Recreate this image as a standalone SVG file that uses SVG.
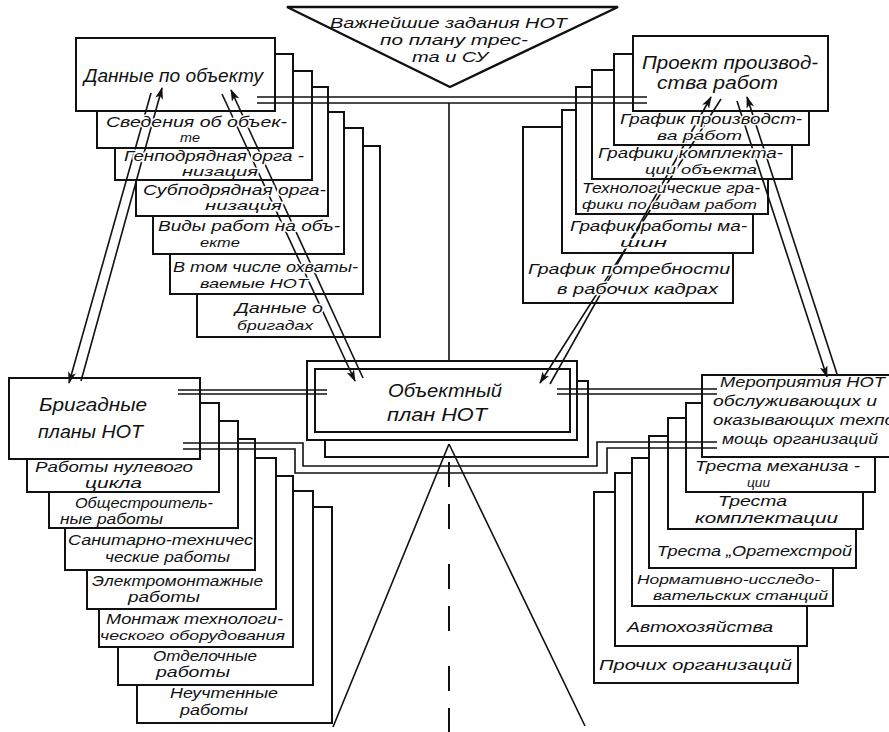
<svg xmlns="http://www.w3.org/2000/svg" xmlns:xlink="http://www.w3.org/1999/xlink" width="889" height="732" viewBox="0 0 889 732">
<style>
.b{fill:#fff;stroke:#111;stroke-width:2}
.t{font-family:"Liberation Sans","DejaVu Sans",sans-serif;font-style:italic;font-size:15px;fill:#111}
.s{font-size:13px}
.L{font-size:18px}
.c{fill:none;stroke:#111;stroke-width:1.6}
.a{fill:none;stroke:#111;stroke-width:1.6;marker-end:url(#ah)}
</style>
<defs>
<marker id="ah" viewBox="0 0 12 8" refX="11" refY="4" markerWidth="12" markerHeight="8" markerUnits="userSpaceOnUse" orient="auto"><path d="M0,0 L12,4 L0,8 L3,4 Z" fill="#111"/></marker>
<mask id="tm" maskUnits="userSpaceOnUse" x="0" y="0" width="889" height="732">
<rect x="0" y="0" width="889" height="732" fill="#fff"/>
<g fill="#000" stroke="#000" stroke-width="3">
<use href="#tt0"/><use href="#tl1"/><use href="#tl2"/><use href="#tl3"/><use href="#tl4"/><use href="#tl5"/><use href="#tl6"/><use href="#tl7"/>
<use href="#tr1"/><use href="#tr2"/><use href="#tr3"/><use href="#tr4"/><use href="#tr5"/><use href="#tr6"/><use href="#tc"/>
<use href="#tb0"/><use href="#tb1"/><use href="#tb2"/><use href="#tb3"/><use href="#tb4"/><use href="#tb5"/><use href="#tb6"/><use href="#tb7"/>
<use href="#tm0"/><use href="#tm1"/><use href="#tm2"/><use href="#tm3"/><use href="#tm4"/><use href="#tm5"/><use href="#tm6"/>
</g>
</mask>
</defs>
<rect x="0" y="0" width="889" height="732" fill="#fff"/>

<!-- top triangle -->
<g id="n-top">
<polygon class="b" points="287,7 618,7 450,87" style="stroke-width:2.4"/>
<g id="tt0">
<text class="t" x="330" y="28" textLength="237" lengthAdjust="spacingAndGlyphs">Важнейшие задания НОТ</text>
<text class="t" x="380" y="45" textLength="148" lengthAdjust="spacingAndGlyphs">по плану трес-</text>
<text class="t" x="412" y="62" textLength="76" lengthAdjust="spacingAndGlyphs">та и СУ</text>
</g>
</g>

<!-- left top stack (back to front) -->
<g id="n-lt7"><rect class="b" x="197" y="146" width="183" height="191"/>
<g id="tl7"><text class="t" x="235" y="313" textLength="88" lengthAdjust="spacingAndGlyphs">Данные о</text>
<text class="t s" x="237" y="330" textLength="76" lengthAdjust="spacingAndGlyphs">бригадах</text></g></g>
<g id="n-lt6"><rect class="b" x="170" y="128" width="193" height="166"/>
<g id="tl6"><text class="t" x="173" y="272" textLength="185" lengthAdjust="spacingAndGlyphs">В том числе охваты-</text>
<text class="t s" x="200" y="288" textLength="108" lengthAdjust="spacingAndGlyphs">ваемые НОТ</text></g></g>
<g id="n-lt5"><rect class="b" x="153" y="112" width="191" height="142"/>
<g id="tl5"><text class="t" x="158" y="231" textLength="182" lengthAdjust="spacingAndGlyphs">Виды работ на объ-</text>
<text class="t s" x="200" y="247" textLength="40" lengthAdjust="spacingAndGlyphs">екте</text></g></g>
<g id="n-lt4"><rect class="b" x="136" y="87" width="192" height="129"/>
<g id="tl4"><text class="t" x="143" y="195" textLength="183" lengthAdjust="spacingAndGlyphs">Субподрядная орга-</text>
<text class="t s" x="205" y="210" textLength="77" lengthAdjust="spacingAndGlyphs">низация</text></g></g>
<g id="n-lt3"><rect class="b" x="115" y="71" width="197" height="109"/>
<g id="tl3"><text class="t" x="124" y="161" textLength="180" lengthAdjust="spacingAndGlyphs">Генподрядная орга -</text>
<text class="t s" x="182" y="176" textLength="76" lengthAdjust="spacingAndGlyphs">низация</text></g></g>
<g id="n-lt2"><rect class="b" x="97" y="54" width="196" height="94"/>
<g id="tl2"><text class="t" x="106" y="127" textLength="181" lengthAdjust="spacingAndGlyphs">Сведения об объек-</text>
<text class="t s" x="180" y="142" textLength="20" lengthAdjust="spacingAndGlyphs">те</text></g></g>
<g id="n-lt1"><rect class="b" x="76" y="38" width="199" height="73"/>
<g id="tl1"><text class="t L" x="84" y="82" textLength="179" lengthAdjust="spacingAndGlyphs">Данные по объекту</text></g></g>

<!-- right top stack -->
<g id="n-rt6"><rect class="b" x="523" y="127" width="210" height="176"/>
<g id="tr6"><text class="t" x="528" y="274" textLength="202" lengthAdjust="spacingAndGlyphs">График потребности</text>
<text class="t" x="557" y="294" textLength="161" lengthAdjust="spacingAndGlyphs">в рабочих кадрах</text></g></g>
<g id="n-rt5"><rect class="b" x="562" y="110" width="191" height="143"/>
<g id="tr5"><text class="t" x="570" y="231" textLength="177" lengthAdjust="spacingAndGlyphs">График работы ма-</text>
<text class="t s" x="620" y="247" textLength="47" lengthAdjust="spacingAndGlyphs">шин</text></g></g>
<g id="n-rt4"><rect class="b" x="576" y="87" width="192" height="127"/>
<g id="tr4"><text class="t" x="582" y="193" textLength="178" lengthAdjust="spacingAndGlyphs">Технологические гра-</text>
<text class="t s" x="582" y="209" textLength="175" lengthAdjust="spacingAndGlyphs">фики по видам работ</text></g></g>
<g id="n-rt3"><rect class="b" x="592" y="70" width="200" height="109"/>
<g id="tr3"><text class="t" x="598" y="158" textLength="185" lengthAdjust="spacingAndGlyphs">Графики комплекта-</text>
<text class="t s" x="645" y="174" textLength="112" lengthAdjust="spacingAndGlyphs">ции объекта</text></g></g>
<g id="n-rt2"><rect class="b" x="614" y="54" width="195" height="91"/>
<g id="tr2"><text class="t" x="620" y="124" textLength="182" lengthAdjust="spacingAndGlyphs">График производст-</text>
<text class="t s" x="657" y="140" textLength="85" lengthAdjust="spacingAndGlyphs">ва работ</text></g></g>
<g id="n-rt1"><rect class="b" x="633" y="36" width="195" height="75"/>
<g id="tr1"><text class="t L" x="642" y="69" textLength="176" lengthAdjust="spacingAndGlyphs">Проект производ-</text>
<text class="t L" x="657" y="89" textLength="121" lengthAdjust="spacingAndGlyphs">ства работ</text></g></g>

<!-- lower left stack -->
<g id="n-lb7"><rect class="b" x="137" y="507" width="195" height="216"/>
<g id="tb7"><text class="t" x="170" y="698" textLength="108" lengthAdjust="spacingAndGlyphs">Неучтенные</text>
<text class="t" x="180" y="715" textLength="68" lengthAdjust="spacingAndGlyphs">работы</text></g></g>
<g id="n-lb6"><rect class="b" x="118" y="491" width="195" height="194"/>
<g id="tb6"><text class="t" x="153" y="661" textLength="104" lengthAdjust="spacingAndGlyphs">Отделочные</text>
<text class="t" x="156" y="677" textLength="74" lengthAdjust="spacingAndGlyphs">работы</text></g></g>
<g id="n-lb5"><rect class="b" x="99" y="476" width="194" height="171"/>
<g id="tb5"><text class="t" x="106" y="624" textLength="177" lengthAdjust="spacingAndGlyphs">Монтаж технологи-</text>
<text class="t s" x="100" y="640" textLength="185" lengthAdjust="spacingAndGlyphs">ческого оборудования</text></g></g>
<g id="n-lb4"><rect class="b" x="87" y="458" width="189" height="151"/>
<g id="tb4"><text class="t" x="92" y="586" textLength="171" lengthAdjust="spacingAndGlyphs">Электромонтажные</text>
<text class="t" x="128" y="602" textLength="72" lengthAdjust="spacingAndGlyphs">работы</text></g></g>
<g id="n-lb3"><rect class="b" x="65" y="439" width="190" height="131"/>
<g id="tb3"><text class="t" x="68" y="545" textLength="185" lengthAdjust="spacingAndGlyphs">Санитарно-техничес</text>
<text class="t" x="105" y="562" textLength="125" lengthAdjust="spacingAndGlyphs">ческие работы</text></g></g>
<g id="n-lb2"><rect class="b" x="49" y="421" width="189" height="107"/>
<g id="tb2"><text class="t" x="75" y="508" textLength="138" lengthAdjust="spacingAndGlyphs">Общестроитель-</text>
<text class="t" x="60" y="524" textLength="103" lengthAdjust="spacingAndGlyphs">ные работы</text></g></g>
<g id="n-lb1"><rect class="b" x="27" y="403" width="192" height="89"/>
<g id="tb1"><text class="t" x="35" y="472" textLength="158" lengthAdjust="spacingAndGlyphs">Работы нулевого</text>
<text class="t" x="85" y="488" textLength="57" lengthAdjust="spacingAndGlyphs">цикла</text></g></g>
<g id="n-lb0"><rect class="b" x="9" y="378" width="191" height="81"/>
<g id="tb0"><text class="t L" x="39" y="411" textLength="108" lengthAdjust="spacingAndGlyphs">Бригадные</text>
<text class="t L" x="38" y="438" textLength="105" lengthAdjust="spacingAndGlyphs">планы НОТ</text></g></g>

<!-- lower right stack -->
<g id="n-rb6"><rect class="b" x="594" y="492" width="204" height="191"/>
<g id="tm6"><text class="t" x="599" y="670" textLength="193" lengthAdjust="spacingAndGlyphs">Прочих организаций</text></g></g>
<g id="n-rb5"><rect class="b" x="615" y="473" width="192" height="173"/>
<g id="tm5"><text class="t" x="627" y="632" textLength="146" lengthAdjust="spacingAndGlyphs">Автохозяйства</text></g></g>
<g id="n-rb4"><rect class="b" x="632" y="458" width="201" height="148"/>
<g id="tm4"><text class="t s" x="637" y="584" textLength="183" lengthAdjust="spacingAndGlyphs">Нормативно-исследо-</text>
<text class="t s" x="653" y="600" textLength="175" lengthAdjust="spacingAndGlyphs">вательских станций</text></g></g>
<g id="n-rb3"><rect class="b" x="649" y="436" width="207" height="132"/>
<g id="tm3"><text class="t" x="657" y="556" textLength="195" lengthAdjust="spacingAndGlyphs">Треста „Оргтехстрой</text></g></g>
<g id="n-rb2"><rect class="b" x="668" y="418" width="195" height="111"/>
<g id="tm2"><text class="t" x="718" y="506" textLength="69" lengthAdjust="spacingAndGlyphs">Треста</text>
<text class="t" x="695" y="523" textLength="143" lengthAdjust="spacingAndGlyphs">комплектации</text></g></g>
<g id="n-rb1"><rect class="b" x="686" y="403" width="189" height="89"/>
<g id="tm1"><text class="t" x="695" y="471" textLength="165" lengthAdjust="spacingAndGlyphs">Треста механиза -</text>
<text class="t s" x="747" y="487" textLength="23" lengthAdjust="spacingAndGlyphs">ции</text></g></g>
<g id="n-rb0"><rect class="b" x="702" y="375" width="195" height="82"/>
<g id="tm0"><text class="t" x="720" y="387" textLength="165" lengthAdjust="spacingAndGlyphs">Мероприятия НОТ</text>
<text class="t" x="713" y="406" textLength="164" lengthAdjust="spacingAndGlyphs">обслуживающих и</text>
<text class="t" x="713" y="425" textLength="182" lengthAdjust="spacingAndGlyphs">оказывающих техпо</text>
<text class="t" x="722" y="444" textLength="156" lengthAdjust="spacingAndGlyphs">мощь организаций</text></g></g>

<!-- central node -->
<g id="n-center">
<rect class="b" x="325" y="381" width="263" height="76"/>
<rect class="b" x="307" y="361" width="270" height="79"/>
<rect class="b" x="315" y="369" width="255" height="63"/>
<g id="tc"><text class="t L" x="388" y="397" textLength="114" lengthAdjust="spacingAndGlyphs">Объектный</text>
<text class="t L" x="387" y="421" textLength="100" lengthAdjust="spacingAndGlyphs">план НОТ</text></g>
</g>

<!-- connectors -->
<g id="connectors" mask="url(#tm)">
<path class="c" d="M257,97 H647 M257,103 H647"/>
<path class="c" d="M449,103 V361"/>
<path class="c" d="M178,390 H327 M178,394 H327"/>
<path class="c" d="M557,389 H717 M557,394 H717"/>
<path class="c" d="M183,443 H303 V466 H597 V442 H717"/>
<path class="c" d="M183,449 H295 V473 H607 V448 H717"/>
<path class="c" d="M449,444 V732" style="stroke-width:2;stroke-dasharray:0 18 25 17 25 17"/>
<path class="c" d="M449,444 L333,727 M449,444 L585,726"/>
<path class="a" d="M222,94 L355,381"/>
<path class="a" d="M363,378 L231,90"/>
<path class="a" d="M151,93 L69,383"/>
<path class="a" d="M81,381 L162,88"/>
<path class="a" d="M721,99 L540,383"/>
<path class="a" d="M550,384 L711,97"/>
<path class="a" d="M737,101 L827,377"/>
<path class="a" d="M837,374 L747,97"/>
</g>
</svg>
